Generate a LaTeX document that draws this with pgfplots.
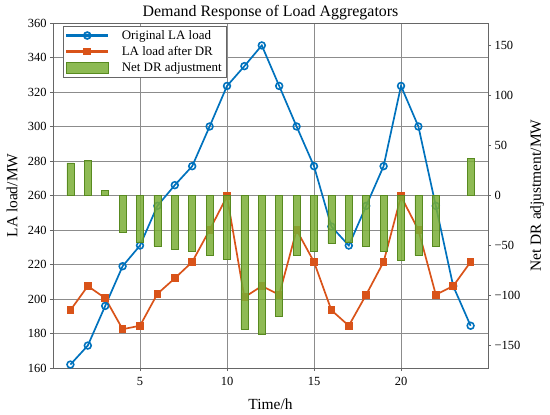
\documentclass[border=0pt]{standalone}
\usepackage{fontspec}
\setmainfont{Liberation Serif}
\usepackage{pgfplots}
\pgfplotsset{compat=1.18}
\definecolor{mblue}{RGB}{0,114,189}
\definecolor{morange}{RGB}{217,83,25}
\definecolor{mgreen}{RGB}{122,174,54}
\definecolor{mgreenedge}{RGB}{88,138,32}
\pgfplotsset{
  mybarlegend/.style={legend image code/.code={\draw[##1, line width=0.5pt] (0cm,-0.19cm) rectangle (1.48cm,0.19cm); \path (1.85cm,0cm);}},
  mylinelegend/.style={legend image code/.code={\pgfsetlinewidth{2.2pt}\draw[##1, line width=2.2pt] (0cm,0cm) -- (1.48cm,0cm); \draw[##1, line width=2pt] plot coordinates {(0.74cm,0cm)}; \path (1.85cm,0cm);}},
}
\begin{document}
\begin{tikzpicture}
\useasboundingbox (-53bp,-47bp) rectangle (497bp,368bp);
\begin{axis}[
  at={(0,0)}, anchor=south west,
  scale only axis, width=435bp, height=345bp,
  xmin=0, xmax=25, ymin=160, ymax=360,
  xtick={5,10,15,20}, ytick={160,180,...,360},
  xtick pos=bottom, ytick pos=left,
  grid=major, grid style={black!45, line width=0.5pt},
  axis line style={black!60, line width=0.6pt},
  tick align=outside, tick style={black!60, line width=0.6pt},
  major tick length=3bp,
  tick label style={font=\fontsize{12.5}{14}\selectfont},
  xticklabel style={yshift=-3bp},
  /pgf/number format/assume math mode=true,
  title={Demand Response of Load Aggregators},
  every axis title/.style={at={(axis description cs:0.5,1)}, anchor=base, yshift=6bp, font=\fontsize{16}{18}\selectfont},
  xlabel={Time/h}, ylabel={LA load/MW},
  every axis x label/.style={at={(axis description cs:0.5,-0.104)}, anchor=center, font=\fontsize{15.5}{18}\selectfont},
  every axis y label/.style={at={(axis description cs:-0.094,0.5)}, anchor=center, rotate=90, font=\fontsize{15.5}{18}\selectfont},
]
\addplot[mblue, line width=1.7pt, mark=o, mark size=3.4pt, mark options={fill=white, line width=1.6pt}] coordinates {
(1,162) (2,173) (3,196) (4,219) (5,231) (6,254) (7,266) (8,277) (9,300) (10,323.5) (11,335) (12,347)
(13,323.5) (14,300) (15,277) (16,242) (17,231) (18,254) (19,277) (20,323.5) (21,300) (22,254) (23,207.5) (24,184.5)};
\addplot[morange, line width=1.7pt, mark=square*, mark size=3.4pt, mark options={fill=morange, line width=0pt}] coordinates {
(1,193.5) (2,207.5) (3,200.5) (4,182.5) (5,184.5) (6,203) (7,212) (8,221.5) (9,240) (10,259.5) (11,201) (12,207.5)
(13,202.5) (14,240) (15,221.5) (16,193.5) (17,184.5) (18,202.5) (19,221.5) (20,259.5) (21,240) (22,202.5) (23,207.5) (24,221.5)};
\end{axis}
\begin{axis}[
  at={(0,0)}, anchor=south west,
  scale only axis, width=435bp, height=345bp,
  xmin=0, xmax=25, ymin=-172.5, ymax=172.5,
  axis x line=none, axis y line*=right,
  ytick={-150,-100,-50,0,50,100,150},
  yticklabels={−150,−100,−50,0,50,100,150},
  axis line style={black!60, line width=0.6pt},
  tick align=outside, tick style={black!60, line width=0.6pt},
  major tick length=3bp,
  tick label style={font=\fontsize{12.5}{14}\selectfont},
  ylabel={Net DR adjustment/MW},
  every axis y label/.style={at={(axis description cs:1.113,0.5)}, anchor=center, rotate=90, font=\fontsize{15.5}{18}\selectfont},
  legend style={at={(axis description cs:0.023,0.991)}, anchor=north west, draw=black!60,
    font=\fontsize{13}{15}\selectfont, cells={anchor=west}, inner sep=2pt, row sep=1.5pt, fill=white},
]
\addlegendimage{mblue, mark=o, mark size=3.4pt, mark options={fill=white, line width=1.8pt}, mylinelegend}
\addlegendentry{Original LA load}
\addlegendimage{morange, mark=square*, mark size=3.4pt, mark options={fill=morange, line width=0pt}, mylinelegend}
\addlegendentry{LA load after DR}
\addplot[ybar, bar width=0.4, bar shift=0pt, fill=mgreen, fill opacity=0.85, draw=mgreenedge, line width=0.5pt,
  mybarlegend] coordinates {
(1,32.5) (2,35) (3,5) (4,-36.5) (5,-46.5) (6,-50.5) (7,-53.5) (8,-55.5) (9,-60) (10,-64) (11,-134) (12,-139)
(13,-120.5) (14,-60) (15,-55.5) (16,-48) (17,-47) (18,-51) (19,-55.5) (20,-64.5) (21,-60) (22,-51) (24,37)};
\addlegendentry{Net DR adjustment}
\end{axis}
\end{tikzpicture}
\end{document}
